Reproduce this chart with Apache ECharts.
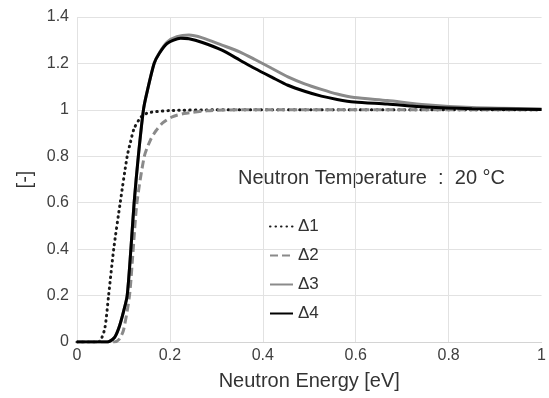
<!DOCTYPE html>
<html>
<head>
<meta charset="utf-8">
<script src="https://cdn.jsdelivr.net/npm/echarts@6/dist/echarts.min.js"></script>
<style>
  html, body { margin: 0; padding: 0; background: #fff; }
  #chart { width: 549px; height: 398px; }
</style>
</head>
<body>
<div id="chart"></div>
<script>
// [energy eV, ratio]
const delta1 = [
  [0, 0], [0.04, 0], [0.05, 0.005], [0.06, 0.06], [0.068, 0.2], [0.079, 0.4],
  [0.093, 0.6], [0.108, 0.8], [0.115, 0.86], [0.123, 0.92], [0.138, 0.97],
  [0.15, 0.985], [0.16, 0.99], [0.2, 0.997], [0.3, 1.0], [1, 1.0]
]
const delta2 = [
  [0, 0], [0.08, 0], [0.09, 0.01], [0.1, 0.05], [0.113, 0.2], [0.121, 0.4],
  [0.129, 0.6], [0.145, 0.8], [0.158, 0.87], [0.17, 0.91], [0.185, 0.945],
  [0.205, 0.97], [0.23, 0.984], [0.28, 0.996], [0.35, 1.0], [1, 1.0]
]
const delta3 = [
  [0, 0], [0.06, 0], [0.07, 0.003], [0.081, 0.02], [0.09, 0.06], [0.1, 0.13],
  [0.108, 0.2], [0.116, 0.4], [0.123, 0.6], [0.132, 0.8], [0.143, 1.0],
  [0.15, 1.07], [0.166, 1.2], [0.177, 1.245], [0.194, 1.292], [0.215, 1.315],
  [0.241, 1.322], [0.27, 1.31], [0.312, 1.279], [0.35, 1.25], [0.383, 1.217],
  [0.42, 1.178], [0.454, 1.142], [0.49, 1.112], [0.526, 1.088], [0.56, 1.068],
  [0.597, 1.053], [0.668, 1.04], [0.75, 1.022], [0.85, 1.01], [1, 1.004]
]
const delta4 = [
  [0, 0], [0.06, 0], [0.07, 0.003], [0.081, 0.02], [0.09, 0.06], [0.1, 0.13],
  [0.108, 0.2], [0.116, 0.4], [0.123, 0.6], [0.132, 0.8], [0.143, 1.0],
  [0.15, 1.07], [0.166, 1.2], [0.177, 1.243], [0.194, 1.286], [0.223, 1.308],
  [0.241, 1.306], [0.27, 1.29], [0.312, 1.257], [0.35, 1.215], [0.383, 1.178],
  [0.42, 1.14], [0.454, 1.106], [0.49, 1.08], [0.526, 1.059], [0.56, 1.045],
  [0.597, 1.034], [0.668, 1.025], [0.75, 1.012], [0.85, 1.005], [1, 1.002]
]
const seriesNames = ['Δ1', 'Δ2', 'Δ3', 'Δ4']

const FONT = '"Liberation Sans", Arial, sans-serif'
const gridColor = '#e2e2e2'
const textColor = '#404040'

const chart = echarts.init(document.getElementById('chart'), null, { renderer: 'canvas' })

const lineSeries = (name, data, color, lineStyle) => ({
  name,
  type: 'line',
  data,
  color,
  symbol: 'none',
  smooth: 0.25,
  lineStyle: Object.assign({ color }, lineStyle),
  z: 3
})

chart.setOption({
  animation: false,
  backgroundColor: '#fff',
  textStyle: { fontFamily: FONT },
  grid: { left: 77, right: 4, top: 17, bottom: 56 },
  legend: {
    orient: 'vertical',
    left: 264,
    top: 213,
    itemWidth: 23,
    itemHeight: 14,
    itemGap: 12,
    data: seriesNames,
    itemStyle: { opacity: 0 },
    textStyle: { fontFamily: FONT, fontSize: 17, color: '#333' }
  },
  graphic: [
    {
      type: 'text',
      left: 238,
      top: 168,
      style: { text: 'Neutron Temperature  :  20 °C', font: '20px ' + FONT, fill: '#333' }
    }
  ],
  xAxis: {
    type: 'value',
    min: 0,
    max: 1,
    interval: 0.2,
    name: 'Neutron Energy [eV]',
    nameLocation: 'middle',
    nameGap: 29,
    nameTextStyle: { fontSize: 20, color: '#333', fontFamily: FONT },
    axisLine: { show: true, lineStyle: { color: '#d4d4d4', width: 1 } },
    axisTick: { show: false },
    axisLabel: { fontSize: 16, color: textColor, margin: 6, fontFamily: FONT },
    splitLine: { show: true, showMaxLine: false, lineStyle: { color: gridColor, width: 1 } }
  },
  yAxis: {
    type: 'value',
    min: 0,
    max: 1.4,
    interval: 0.2,
    name: '[-]',
    nameLocation: 'middle',
    nameGap: 41,
    nameTextStyle: { fontSize: 20, color: '#333', fontFamily: FONT },
    axisLine: { show: false },
    axisTick: { show: false },
    axisLabel: { fontSize: 16, color: textColor, margin: 8, fontFamily: FONT },
    splitLine: { show: true, lineStyle: { color: gridColor, width: 1 } }
  },
  series: [
    lineSeries(seriesNames[0], delta1, '#1a1a1a', { width: 3, type: [0.5, 5], cap: 'round' }),
    lineSeries(seriesNames[1], delta2, '#8a8a8a', { width: 3, type: [8, 4] }),
    lineSeries(seriesNames[2], delta3, '#8a8a8a', { width: 3 }),
    lineSeries(seriesNames[3], delta4, '#000000', { width: 3 })
  ]
})
</script>
</body>
</html>
